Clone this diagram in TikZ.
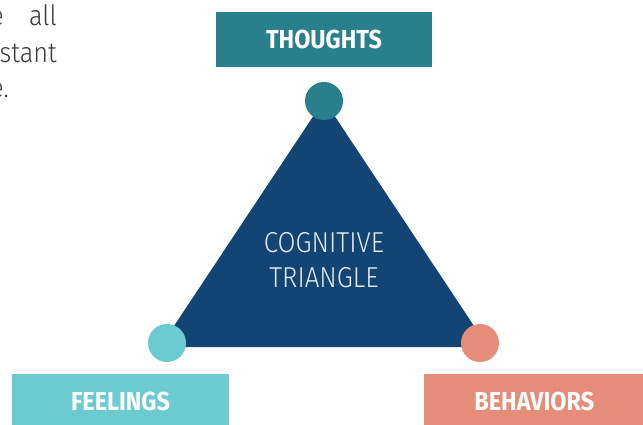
\documentclass[tikz,border=0pt]{standalone}
\usepackage{fontspec}
\setmainfont[FakeStretch=0.9]{Fira Sans}
\newfontfamily\lightfont[FakeStretch=0.9]{Fira Sans Light}
\usetikzlibrary{positioning}
\definecolor{ThoughtC}{RGB}{42,127,140}
\definecolor{FeelC}{RGB}{108,203,208}
\definecolor{BehavC}{RGB}{229,141,120}
\definecolor{TriC}{RGB}{19,69,116}
\definecolor{BodyC}{RGB}{58,58,58}
\tikzset{
  tag/.style={rectangle,minimum width=5.4cm,minimum height=1.375cm,inner sep=0pt,
              text=white,font=\fontsize{18.5}{20}\selectfont\bfseries},
  dot/.style={circle,minimum size=0.95cm,inner sep=0pt},
  body/.style={inner sep=0pt,text=BodyC,font=\lightfont\fontsize{20}{24}\selectfont},
}

\begin{document}
\begin{tikzpicture}[x=0.025cm,y=-0.025cm]
  \useasboundingbox (0,0) rectangle (643,425);
  \clip (0,0) rectangle (643,425);
  % tail of the paragraph on the left
  \node[body,anchor=base east] (l1) at (57,26) {e\hspace{0.9em}all};
  \node[body,anchor=base east] (l2) at (57,63) {stant};
  \node[body,anchor=base east] (l3) at (9,98) {e.};
  % triangle
  \coordinate (apex) at (324,100);
  \coordinate (lft) at (160,347);
  \coordinate (rgt) at (488,347);
  \fill[TriC] (apex) -- (lft) -- (rgt) -- cycle;
  \node[align=center,text=white!88!TriC,
        font=\lightfont\fontsize{20.5}{24.8}\selectfont] (ct) at (324,260) {COGNITIVE\\TRIANGLE};
  % corners
  \node[dot,fill=ThoughtC] (dt) at (324,101) {};
  \node[dot,fill=FeelC] (df) at (167,343) {};
  \node[dot,fill=BehavC] (db) at (480,343) {};
  % labels
  \node[tag,fill=ThoughtC] (thoughts) at (324,39.5) {THOUGHTS};
  \node[tag,fill=FeelC] (feelings) at (120.5,401.5) {FEELINGS};
  \node[tag,fill=BehavC,minimum width=5.5cm,anchor=west] (behaviors) at (424,401.5) {BEHAVIORS};
\end{tikzpicture}
\end{document}
